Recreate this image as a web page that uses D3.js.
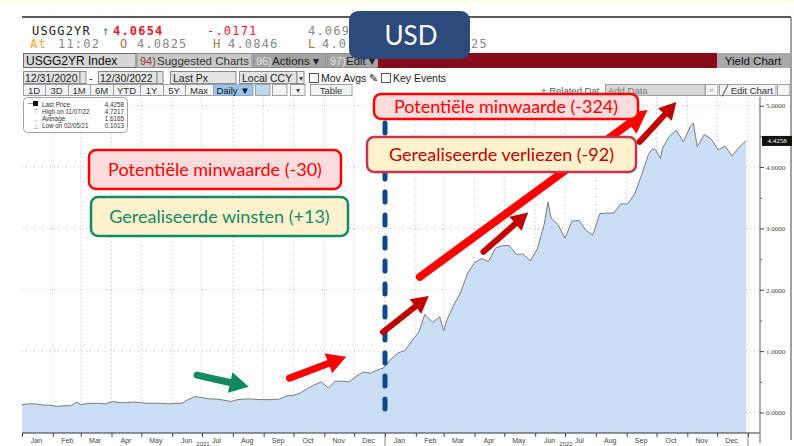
<!DOCTYPE html>
<html>
<head>
<meta charset="utf-8">
<script src="https://cdn.jsdelivr.net/npm/d3@7"></script>
<style>
  body { margin: 0; background: #fff; }
  svg { display: block; }
  .ui { font-family: "Liberation Sans", Arial, sans-serif; }
  .mono { font-family: "DejaVu Sans Mono", monospace; }
  .note { font-family: Lato, "Open Sans", sans-serif; }
</style>
</head>
<body>
<svg id="chart" width="794" height="446"></svg>
<script>
// USGG2YR weekly closes
const dates = [
  "2021-01-01","2021-01-08","2021-01-15","2021-01-22","2021-01-29","2021-02-05","2021-02-12","2021-02-19",
  "2021-02-25","2021-03-01","2021-03-05","2021-03-12","2021-03-19","2021-03-26","2021-04-02","2021-04-09",
  "2021-04-16","2021-04-23","2021-04-30","2021-05-07","2021-05-14","2021-05-21","2021-05-28","2021-06-04",
  "2021-06-11","2021-06-17","2021-06-24","2021-07-02","2021-07-09","2021-07-16","2021-07-23","2021-07-30",
  "2021-08-06","2021-08-13","2021-08-20","2021-08-27","2021-09-03","2021-09-10","2021-09-17","2021-09-24",
  "2021-10-01","2021-10-08","2021-10-15","2021-10-22","2021-10-29","2021-11-05","2021-11-12","2021-11-19",
  "2021-11-26","2021-12-03","2021-12-10","2021-12-17","2021-12-24","2021-12-31",
  "2022-01-07","2022-01-14","2022-01-21","2022-01-28","2022-02-04","2022-02-10","2022-02-18","2022-02-25",
  "2022-03-01","2022-03-04","2022-03-11","2022-03-18","2022-03-25","2022-04-01","2022-04-08","2022-04-15",
  "2022-04-22","2022-04-29","2022-05-06","2022-05-13","2022-05-20","2022-05-27","2022-06-03","2022-06-10",
  "2022-06-14","2022-06-17","2022-06-24","2022-07-01","2022-07-08","2022-07-15","2022-07-22","2022-07-29",
  "2022-08-05","2022-08-12","2022-08-19","2022-08-26","2022-09-02","2022-09-09","2022-09-16","2022-09-23",
  "2022-09-27","2022-09-30","2022-10-05","2022-10-07","2022-10-14","2022-10-21","2022-10-28","2022-11-04",
  "2022-11-07","2022-11-11","2022-11-18","2022-11-25","2022-12-02","2022-12-09","2022-12-16","2022-12-23",
  "2022-12-30"
];
const yields = [
  0.13,0.14,0.14,0.12,0.12,0.10,0.11,0.11,
  0.17,0.13,0.14,0.15,0.15,0.14,0.18,0.16,
  0.16,0.17,0.16,0.15,0.15,0.15,0.14,0.15,
  0.15,0.21,0.26,0.24,0.22,0.22,0.20,0.18,
  0.21,0.22,0.22,0.21,0.21,0.21,0.22,0.27,
  0.28,0.32,0.39,0.45,0.50,0.40,0.51,0.51,
  0.50,0.59,0.66,0.64,0.69,0.73,
  0.87,0.97,1.01,1.17,1.31,1.60,1.47,1.56,
  1.33,1.50,1.75,1.95,2.27,2.44,2.51,2.46,
  2.68,2.72,2.72,2.58,2.58,2.47,2.66,3.06,
  3.43,3.17,3.06,2.84,3.12,3.13,2.97,2.89,
  3.24,3.25,3.25,3.40,3.40,3.56,3.87,4.21,
  4.30,4.28,4.14,4.31,4.50,4.60,4.41,4.66,
  4.72,4.33,4.53,4.46,4.28,4.34,4.18,4.32,
  4.43
];
const yTicks = [0, 1, 2, 3, 4, 5];
const yMinorTicks = [0.5, 1.5, 2.5, 3.5, 4.5];
const lastPrice = 4.4258;
const statLabels = ["Last Price", "High on 11/07/22", "Average", "Low on 02/05/21"];
const statValues = ["4.4258", "4.7217", "1.6165", "0.1013"];
const rangeButtons = ["1D", "3D", "1M", "6M", "YTD", "1Y", "5Y", "Max"];

// annotation arrows, in chart units (date, yield)
const arrows = [
  { from: ["2021-06-26", 0.61], to: ["2021-08-17", 0.42], color: "#13895f", w: 7, head: 19 },
  { from: ["2021-09-27", 0.56], to: ["2021-11-23", 0.91], color: "#ff0000", w: 7, head: 19 },
  { from: ["2021-12-30", 1.31], to: ["2022-02-14", 1.90], color: "#c00000", w: 6, head: 17 },
  { from: ["2022-02-05", 2.21], to: ["2022-09-22", 4.93], color: "#ff0000", w: 8, head: 23 },
  { from: ["2022-04-10", 2.62], to: ["2022-05-25", 3.26], color: "#c00000", w: 6, head: 17 },
  { from: ["2022-09-14", 4.41], to: ["2022-10-21", 5.06], color: "#c00000", w: 6, head: 17 }
];
const splitDate = "2022-01-01";

const svg = d3.select("#chart");
const parse = d3.timeParse("%Y-%m-%d");
const series = dates.map((d, i) => ({ date: parse(d), value: yields[i] }));

const plotTop = 97, plotBottom = 433, axisX = 760;
const x = d3.scaleTime().domain([new Date(2021, 0, 1), new Date(2023, 0, 1)]).range([22, 748]);
const y = d3.scaleLinear().domain([0, 5]).range([412.5, 105.7]);

// top strip
svg.append("rect").attr("x", 0).attr("y", 0).attr("width", 794).attr("height", 3).attr("fill", "#fffde6");

// frame
svg.append("line").attr("x1", 22).attr("x2", 791).attr("y1", 17).attr("y2", 17).attr("stroke", "#222").attr("stroke-width", 1.5);
svg.append("line").attr("x1", 791).attr("x2", 791).attr("y1", 17).attr("y2", 440).attr("stroke", "#444").attr("stroke-width", 1);

// quote header
const hdr = svg.append("g").attr("class", "mono").style("font-size", "12px").style("letter-spacing", "1.2px");
const hdrItems = [
  { t: "USGG2YR", x: 32, y: 35, c: "#222" },
  { t: "\u2191", x: 102, y: 35, c: "#2e8b57" },
  { t: "4.0654", x: 113, y: 35, c: "#e8192c", b: true },
  { t: "-.0171", x: 207, y: 35, c: "#e8192c" },
  { t: "4.069", x: 308, y: 35, c: "#888" },
  { t: "At", x: 30, y: 48, c: "#f0a030" },
  { t: "11:02", x: 58, y: 48, c: "#888" },
  { t: "O", x: 120, y: 48, c: "#9c7a3c" },
  { t: "4.0825", x: 137, y: 48, c: "#888" },
  { t: "H", x: 213, y: 48, c: "#9c7a3c" },
  { t: "4.0846", x: 228, y: 48, c: "#888" },
  { t: "L", x: 308, y: 48, c: "#9c7a3c" },
  { t: "4.0", x: 322, y: 48, c: "#888" },
  { t: "25", x: 471, y: 48, c: "#888" }
];
hdr.selectAll("text").data(hdrItems).enter().append("text")
  .attr("x", d => d.x).attr("y", d => d.y).attr("fill", d => d.c)
  .style("font-weight", d => d.b ? "bold" : "normal").text(d => d.t);

// toolbar row
const ui = svg.append("g").attr("class", "ui");
const tb = (x0, x1, y0, h, fill, stroke) =>
  ui.append("rect").attr("x", x0).attr("y", y0).attr("width", x1 - x0).attr("height", h)
    .attr("fill", fill).attr("stroke", stroke || "none").attr("stroke-width", 1);
const tt = (txt, xx, yy, col, size, anchor) =>
  ui.append("text").attr("x", xx).attr("y", yy).attr("fill", col).style("font-size", (size || 11) + "px")
    .attr("text-anchor", anchor || "start").text(txt);

tb(23.5, 136, 53.5, 14, "#d6d6d6", "#6f6f6f");
tt("USGG2YR Index", 26, 65, "#111", 12);
tb(137, 252, 53.5, 14, "#c9c9c9", "#8a8a8a");
tt("94)", 140, 65, "#8b3a3a", 11);
tt("Suggested Charts", 157, 65, "#333", 11.5);
tb(253, 326, 53.5, 14, "#a3a3a3", "#8a8a8a");
tt("96)", 256, 65, "#e0e0e0", 11);
tt("Actions \u25BE", 272, 65, "#222", 11.5);
tb(327, 378, 53.5, 14, "#a3a3a3", "#8a8a8a");
tt("97)", 330, 65, "#e0e0e0", 11);
tt("Edit \u25BE", 346, 65, "#222", 11.5);
tb(378, 717, 53, 15, "#870a18");
tb(717, 790, 53, 15, "#a9a9a9");
tt("Yield Chart", 753, 65, "#111", 11.5, "middle");

// date range row
tb(23.5, 80, 71.5, 12, "#e4e4e4", "#888");
tt("12/31/2020", 25, 81.5, "#222", 10.5);
tb(80, 86, 71.5, 12, "#e4e4e4", "#888");
tt("-", 89, 81.5, "#222", 10.5);
tb(98.5, 157, 71.5, 12, "#e4e4e4", "#888");
tt("12/30/2022", 100, 81.5, "#222", 10.5);
tb(157, 163, 71.5, 12, "#e4e4e4", "#888");
tb(170.5, 236, 71.5, 12, "#e4e4e4", "#888");
tt("Last Px", 173, 81.5, "#222", 10.5);
tb(239.5, 297, 71.5, 12, "#e4e4e4", "#888");
tt("Local CCY", 242, 81.5, "#222", 10.5);
tb(297, 304, 71.5, 12, "#f2f2f2", "#888");
tt("\u25BE", 300.5, 81, "#444", 8, "middle");
tb(309.5, 318.5, 73.5, 9, "#fff", "#555");
tt("Mov Avgs \u270E", 321, 81.5, "#222", 10.5);
tb(381.5, 390.5, 73.5, 9, "#fff", "#555");
tt("Key Events", 393, 81.5, "#222", 10.5);

// range buttons row
const btnEdges = [23, 45, 68, 90, 113, 140, 163, 185, 213];
rangeButtons.forEach((b, i) => {
  tb(btnEdges[i] + 0.5, btnEdges[i + 1] + 0.5, 84.5, 11, "#f4f4f4", "#a0a0a0");
  tt(b, (btnEdges[i] + btnEdges[i + 1]) / 2, 93.5, "#333", 9.5, "middle");
});
tb(213.5, 253, 84.5, 11, "#9cc3e5", "#7fa6cc");
tt("Daily \u25BC", 233, 93.5, "#111", 9.5, "middle");
tb(255.5, 270, 84.5, 11, "#bdd7ee", "#a0a0a0");
tb(272.5, 287, 84.5, 11, "#f4f4f4", "#a0a0a0");
tb(290.5, 305, 84.5, 11, "#f4f4f4", "#a0a0a0");
tt("\u25BE", 297.5, 93, "#444", 8, "middle");
tb(310.5, 352, 84.5, 11, "#f4f4f4", "#a0a0a0");
tt("Table", 331, 93.5, "#333", 9.5, "middle");
tt("+ Related Dat", 541, 93.5, "#555", 9.5);
tb(605.5, 705, 84.5, 11, "#d9d9d9", "#a0a0a0");
tt("Add Data", 608, 93.5, "#777", 9.5);
tb(705.5, 718, 84.5, 11, "#f4f4f4", "#a0a0a0");
tt("\u00AB", 711.5, 93, "#aaa", 9.5, "middle");
tb(719.5, 776, 84.5, 11, "#f4f4f4", "#a0a0a0");
tt("\u2571 Edit Chart", 722, 93.5, "#333", 9.5);
tb(777.5, 790, 84.5, 11, "#f4f4f4", "#a0a0a0");

// gridlines
const grid = svg.append("g").attr("stroke", "#bdbdbd").attr("stroke-dasharray", "1,3");
const monthEdges = d3.timeMonth.range(new Date(2021, 1, 1), new Date(2023, 0, 2));
grid.selectAll(".vg").data(monthEdges).enter().append("line")
  .attr("x1", d => x(d)).attr("x2", d => x(d)).attr("y1", plotTop).attr("y2", plotBottom);
grid.selectAll(".hg").data(yTicks).enter().append("line")
  .attr("x1", 22).attr("x2", axisX).attr("y1", d => y(d)).attr("y2", d => y(d));

// area + line
const area = d3.area().x(d => x(d.date)).y0(plotBottom).y1(d => y(d.value));
const line = d3.line().x(d => x(d.date)).y(d => y(d.value));
svg.append("path").datum(series).attr("d", area).attr("fill", "#c6dcf5").attr("fill-opacity", 0.92);
svg.append("path").datum(series).attr("d", line).attr("fill", "none").attr("stroke", "#7a7a7a").attr("stroke-width", 1);

// x axis
svg.append("line").attr("x1", 22).attr("x2", axisX).attr("y1", plotBottom).attr("y2", plotBottom).attr("stroke", "#333");
const xTicks = svg.append("g").attr("transform", `translate(0,${plotBottom})`)
  .call(d3.axisBottom(x).tickValues(d3.timeMonth.range(new Date(2021, 0, 1), new Date(2023, 0, 2))).tickFormat("").tickSize(4).tickSizeOuter(0));
xTicks.select(".domain").remove();
xTicks.selectAll("line").attr("stroke", "#444");
const midMonths = d3.timeMonth.range(new Date(2021, 0, 1), new Date(2023, 0, 1)).map(d => d3.timeDay.offset(d, 14));
const xLabels = svg.append("g").attr("transform", `translate(0,${plotBottom})`)
  .call(d3.axisBottom(x).tickValues(midMonths).tickFormat(d3.timeFormat("%b")).tickSize(0).tickPadding(5));
xLabels.select(".domain").remove();
xLabels.selectAll("text").attr("fill", "#444").style("font-size", "7px").style("font-family", "Liberation Sans, Arial");
[new Date(2022, 0, 1), new Date(2023, 0, 1)].forEach(d => {
  svg.append("line").attr("x1", x(d)).attr("x2", x(d)).attr("y1", plotBottom).attr("y2", 446).attr("stroke", "#666").attr("stroke-width", 0.8);
});
svg.selectAll(".yr").data([new Date(2021, 6, 2), new Date(2022, 6, 2)]).enter().append("text")
  .attr("x", d => x(d)).attr("y", 445.5).attr("text-anchor", "middle").attr("fill", "#444")
  .style("font-size", "6px").style("font-family", "Liberation Sans, Arial").text(d => d3.timeFormat("%Y")(d));

// y axis
svg.append("line").attr("x1", axisX).attr("x2", axisX).attr("y1", plotTop).attr("y2", 443).attr("stroke", "#777").attr("stroke-width", 1.2);
const yAxis = svg.append("g").attr("transform", `translate(${axisX},0)`)
  .call(d3.axisRight(y).tickValues(yTicks).tickFormat(d3.format(".4f")).tickSize(4).tickPadding(2));
yAxis.select(".domain").remove();
yAxis.selectAll("line").attr("stroke", "#444");
yAxis.selectAll("text").attr("fill", "#444").style("font-size", "7px").style("font-family", "Liberation Serif, serif");
const yMinor = svg.append("g").attr("transform", `translate(${axisX},0)`)
  .call(d3.axisRight(y).tickValues(yMinorTicks).tickFormat("").tickSize(2));
yMinor.select(".domain").remove();
yMinor.selectAll("line").attr("stroke", "#666");
svg.append("rect").attr("x", 762).attr("y", y(lastPrice) - 5).attr("width", 30).attr("height", 10).attr("fill", "#111");
svg.append("text").attr("x", 777).attr("y", y(lastPrice) + 2.5).attr("text-anchor", "middle").attr("fill", "#fff")
  .style("font-size", "7px").style("font-family", "Liberation Serif, serif").text(d3.format(".4f")(lastPrice));

// stats legend
const lg = svg.append("g").attr("class", "ui");
lg.append("rect").attr("x", 23.5).attr("y", 97.5).attr("width", 104).attr("height", 35).attr("rx", 4)
  .attr("fill", "#fff").attr("stroke", "#a5a5a5");
statLabels.forEach((s, i) => {
  const yy = 106.5 + i * 7.3;
  lg.append("text").attr("x", 42).attr("y", yy).attr("fill", "#333").style("font-size", "6.3px").text(s);
  lg.append("text").attr("x", 124).attr("y", yy).attr("text-anchor", "end").attr("fill", "#333").style("font-size", "6.3px").text(statValues[i]);
});
lg.append("rect").attr("x", 33).attr("y", 101).attr("width", 5).attr("height", 5).attr("fill", "#111");
lg.append("line").attr("x1", 28).attr("x2", 33).attr("y1", 103.5).attr("y2", 103.5).attr("stroke", "#999");
lg.append("text").attr("x", 35.5).attr("y", 114).attr("text-anchor", "middle").attr("fill", "#999").style("font-size", "7px").text("\u22A4");
lg.append("text").attr("x", 35.5).attr("y", 121.5).attr("text-anchor", "middle").attr("fill", "#999").style("font-size", "7px").text("\u2192");
lg.append("text").attr("x", 35.5).attr("y", 129).attr("text-anchor", "middle").attr("fill", "#999").style("font-size", "7px").text("\u22A5");

// dashed split line
const sx = x(parse(splitDate));
svg.append("line").attr("x1", sx).attr("x2", sx).attr("y1", y(4.72)).attr("y2", y(-0.1))
  .attr("stroke", "#0f478c").attr("stroke-width", 5).attr("stroke-linecap", "round").attr("stroke-dasharray", "10,13");

// arrows
arrows.forEach(a => {
  const x0 = x(parse(a.from[0])), y0 = y(a.from[1]);
  const x1 = x(parse(a.to[0])), y1 = y(a.to[1]);
  const ang = Math.atan2(y1 - y0, x1 - x0);
  const bx = x1 - Math.cos(ang) * a.head * 0.9, by = y1 - Math.sin(ang) * a.head * 0.9;
  svg.append("line").attr("x1", x0).attr("y1", y0).attr("x2", bx).attr("y2", by)
    .attr("stroke", a.color).attr("stroke-width", a.w).attr("stroke-linecap", "round");
  const hx = x1 - Math.cos(ang) * a.head, hy = y1 - Math.sin(ang) * a.head;
  const hw = a.head * 0.55;
  const pts = [
    [x1, y1],
    [hx + Math.sin(ang) * hw, hy - Math.cos(ang) * hw],
    [hx - Math.sin(ang) * hw, hy + Math.cos(ang) * hw]
  ];
  svg.append("polygon").attr("points", pts.map(p => p.join(",")).join(" ")).attr("fill", a.color);
});

// annotation boxes
const notes = [
  { t: "Potentiële minwaarde (-30)", x0: 89, y0: 150, x1: 341, y1: 189, fill: "#fcdcdc", stroke: "#ff0000", col: "#ff0000" },
  { t: "Gerealiseerde winsten (+13)", x0: 91, y0: 197, x1: 348, y1: 236, fill: "#fff2cc", stroke: "#138a66", col: "#138a66" },
  { t: "Potentiële minwaarde (-324)", x0: 374, y0: 94, x1: 638, y1: 119, fill: "#fcdcdc", stroke: "#ff0000", col: "#ff0000" },
  { t: "Gerealiseerde verliezen (-92)", x0: 367, y0: 137, x1: 636, y1: 172, fill: "#fff2cc", stroke: "#c8334f", col: "#c00000" }
];
const ng = svg.append("g").attr("class", "note");
notes.forEach(n => {
  ng.append("rect").attr("x", n.x0).attr("y", n.y0).attr("width", n.x1 - n.x0).attr("height", n.y1 - n.y0)
    .attr("rx", 7).attr("fill", n.fill).attr("stroke", n.stroke).attr("stroke-width", 2.5);
  ng.append("text").attr("x", (n.x0 + n.x1) / 2).attr("y", (n.y0 + n.y1) / 2 + 6).attr("text-anchor", "middle")
    .attr("fill", n.col).style("font-size", "18px").text(n.t);
});

// USD badge
svg.append("rect").attr("x", 349).attr("y", 11).attr("width", 121).attr("height", 48).attr("rx", 9).attr("fill", "#2c4a7c");
svg.append("text").attr("x", 411).attr("y", 45).attr("text-anchor", "middle").attr("fill", "#fff")
  .style("font-family", "Lato, 'Open Sans', sans-serif").style("font-size", "26px").text("USD");
</script>
</body>
</html>
